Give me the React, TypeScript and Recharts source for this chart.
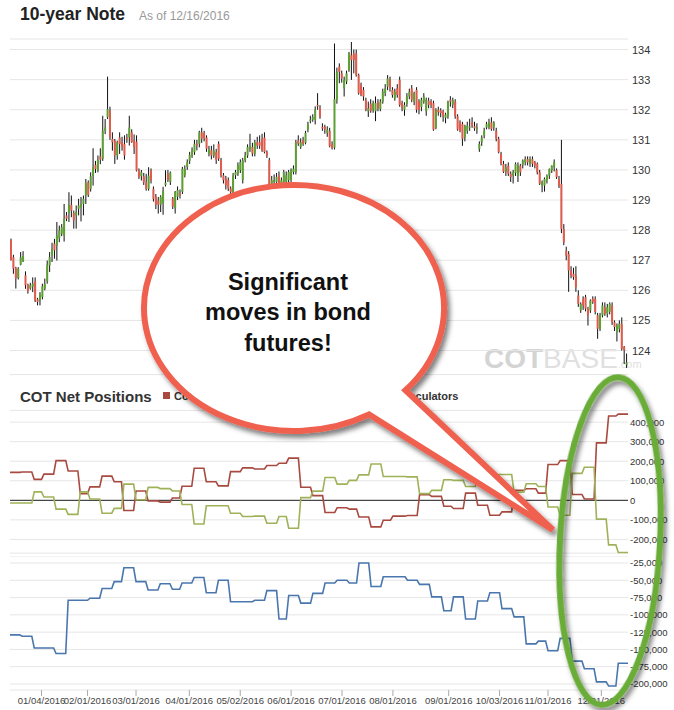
import React from "react";
import { ComposedChart, Bar, Line, XAxis, YAxis, CartesianGrid, ReferenceLine } from "recharts";

// daily candles [open, high, low, close], split by period
const OHLC_DEC_MAR = [
  [127.66, 127.72, 126.99, 127.0], [127.1, 127.18, 126.55, 126.72], [126.74, 126.78, 126.06, 126.39],
  [126.41, 126.77, 126.36, 126.72], [126.85, 127.27, 126.83, 127.1], [126.96, 127.3, 126.94, 127.14],
  [126.5, 126.63, 126.05, 126.17], [126.19, 126.22, 125.89, 125.97], [126.06, 126.25, 126.02, 126.17],
  [126.12, 126.43, 125.94, 126.22], [126.3, 126.43, 125.61, 125.66], [125.7, 125.75, 125.5, 125.61],
  [125.66, 125.94, 125.5, 125.86], [125.78, 126.22, 125.7, 126.14], [126.06, 126.39, 126.0, 126.22],
  [126.3, 126.99, 126.22, 126.85], [126.83, 127.27, 126.61, 127.1], [127.16, 127.58, 126.94, 127.38],
  [127.55, 127.71, 127.05, 127.33], [127.49, 128.27, 126.99, 127.82], [127.73, 128.15, 127.6, 127.99],
  [127.88, 128.2, 127.8, 128.1], [127.82, 128.87, 127.62, 128.38], [128.49, 128.6, 128.3, 128.38],
  [128.57, 129.26, 128.27, 128.84], [128.84, 129.15, 128.43, 128.65], [128.57, 128.65, 128.05, 128.32],
  [128.49, 128.82, 128.05, 128.6], [128.71, 129.04, 128.49, 128.82], [128.76, 129.1, 128.29, 128.87],
  [128.87, 129.15, 128.49, 129.04], [129.15, 129.7, 128.87, 129.57], [129.59, 129.65, 129.1, 129.17],
  [129.37, 129.92, 129.28, 129.79], [129.79, 130.72, 129.48, 130.09], [130.17, 130.3, 129.9, 130.03],
  [129.98, 130.48, 129.92, 130.34], [130.45, 130.72, 130.19, 130.34], [130.37, 131.8, 130.3, 131.3],
  [131.3, 131.69, 131.19, 131.41], [131.75, 133.1, 131.69, 132.02], [131.97, 132.1, 131.0, 131.08],
  [131.03, 131.25, 130.64, 130.92], [130.97, 131.03, 130.2, 130.48], [130.48, 130.97, 130.34, 130.92],
  [131.08, 131.25, 130.53, 130.86], [130.92, 131.1, 130.64, 130.78], [130.86, 131.15, 130.34, 130.48],
  [131.08, 131.2, 130.9, 131.03], [131.08, 131.8, 130.81, 131.41], [131.25, 131.35, 130.9, 130.92],
  [130.97, 131.18, 130.53, 130.75], [130.94, 131.15, 129.95, 129.98], [129.98, 130.05, 129.7, 129.76],
  [129.79, 130.0, 129.65, 129.92], [129.79, 129.9, 129.5, 129.59], [129.59, 129.87, 129.31, 129.37],
  [129.37, 130.09, 129.31, 129.81], [129.98, 130.05, 129.55, 129.65], [129.37, 129.45, 128.95, 129.04],
];

const OHLC_MAR_JUN = [
  [129.11, 129.2, 128.7, 128.84], [128.98, 129.1, 128.55, 128.85], [128.84, 129.16, 128.6, 129.11],
  [128.89, 129.44, 128.51, 129.3], [129.5, 129.99, 129.45, 129.58], [129.88, 130.0, 129.6, 129.66],
  [129.6, 129.95, 129.5, 129.91], [129.05, 129.1, 128.7, 128.78], [128.73, 129.3, 128.55, 129.27],
  [129.11, 129.45, 129.0, 129.33], [129.22, 129.35, 129.05, 129.16], [129.27, 130.1, 129.2, 130.04],
  [129.82, 130.15, 129.75, 130.04], [130.1, 130.35, 130.0, 130.26], [130.3, 130.6, 130.2, 130.5],
  [130.48, 130.75, 130.4, 130.65], [130.59, 131.0, 130.5, 130.87], [130.87, 131.0, 130.65, 130.81],
  [130.87, 131.3, 130.75, 131.25], [131.25, 131.4, 130.9, 131.03], [131.22, 131.3, 130.95, 131.05],
  [131.08, 131.15, 130.6, 130.7], [130.54, 130.8, 130.45, 130.68], [130.65, 130.8, 130.35, 130.48],
  [130.48, 130.85, 130.4, 130.65], [130.59, 130.7, 130.2, 130.32], [130.87, 130.95, 130.3, 130.37],
  [130.32, 130.4, 129.75, 129.82], [129.82, 129.9, 129.55, 129.66], [129.71, 129.8, 129.35, 129.49],
  [129.66, 129.75, 129.3, 129.38], [129.38, 129.45, 129.1, 129.27], [129.22, 129.9, 129.1, 129.82],
  [129.82, 130.0, 129.7, 129.93], [129.88, 130.25, 129.8, 130.15], [129.99, 130.35, 129.9, 130.26],
  [129.66, 130.4, 129.55, 130.32], [130.32, 130.6, 130.25, 130.48], [130.48, 130.85, 130.4, 130.76],
  [130.7, 131.2, 130.6, 130.81], [130.76, 130.9, 130.45, 130.54], [130.54, 131.0, 130.45, 130.92],
  [130.92, 131.1, 130.7, 130.81], [130.92, 131.15, 130.7, 130.81], [131.03, 131.2, 130.6, 130.65],
  [131.08, 131.25, 130.55, 130.59], [130.59, 130.65, 130.4, 130.48], [130.32, 130.4, 129.45, 129.49],
  [129.49, 129.8, 129.4, 129.66], [129.6, 129.85, 129.5, 129.66], [129.6, 129.9, 129.5, 129.77],
  [129.82, 129.95, 129.45, 129.55], [129.49, 129.75, 129.4, 129.66], [129.55, 130.0, 129.45, 129.93],
  [129.6, 129.95, 129.55, 129.82], [129.66, 130.0, 129.55, 129.93], [129.66, 130.05, 129.6, 129.99],
  [129.93, 130.15, 129.85, 130.04], [129.93, 131.0, 129.85, 130.92], [130.98, 131.15, 130.8, 130.87],
  [130.76, 131.05, 130.7, 130.92], [130.98, 131.1, 130.8, 130.87],
];

const OHLC_JUN_AUG = [
  [130.9, 131.3, 130.85, 131.23], [131.34, 131.6, 131.25, 131.51], [131.62, 131.8, 131.55, 131.67],
  [131.67, 131.85, 131.6, 131.76], [131.67, 132.11, 131.51, 132.0], [132.16, 132.55, 132.0, 132.11],
  [132.05, 132.15, 131.7, 131.76], [131.43, 131.55, 131.3, 131.38], [131.43, 131.5, 131.2, 131.34],
  [131.23, 131.45, 131.1, 131.34], [131.29, 131.4, 130.75, 130.79], [130.85, 130.95, 130.68, 130.72],
  [130.74, 134.2, 130.68, 132.35], [132.33, 133.4, 132.2, 133.26], [133.43, 133.54, 132.88, 133.26],
  [133.21, 133.3, 132.9, 133.04], [132.71, 133.1, 132.44, 132.99], [132.94, 133.3, 132.85, 133.21],
  [133.32, 133.92, 133.26, 133.87], [133.81, 134.25, 132.99, 133.65], [133.87, 134.0, 133.21, 133.65],
  [133.87, 134.0, 133.1, 133.15], [133.15, 133.2, 132.5, 132.55], [132.82, 132.9, 132.45, 132.49],
  [132.66, 132.75, 132.3, 132.44], [132.33, 132.4, 131.95, 132.0], [131.95, 132.27, 131.76, 132.05],
  [132.2, 132.35, 131.9, 131.95], [132.0, 132.3, 131.9, 132.22], [131.95, 132.44, 131.62, 132.22],
  [132.25, 132.35, 131.95, 132.05], [132.02, 132.35, 131.95, 132.27], [132.27, 132.7, 132.2, 132.6],
  [132.55, 132.85, 132.45, 132.71], [132.77, 133.15, 132.65, 133.04], [133.01, 133.1, 132.6, 132.71],
  [132.66, 132.75, 132.4, 132.49], [132.38, 132.7, 132.3, 132.6], [132.71, 132.85, 132.4, 132.49],
  [132.99, 133.1, 132.1, 132.16], [132.22, 132.3, 131.95, 132.05], [132.0, 132.25, 131.8, 132.16],
  [132.2, 132.55, 132.1, 132.44], [132.44, 132.7, 132.35, 132.6], [132.71, 132.82, 132.25, 132.33],
  [132.27, 132.6, 132.15, 132.55], [132.66, 132.75, 131.9, 132.0], [132.27, 132.35, 131.85, 132.0],
  [132.09, 132.4, 131.95, 132.33], [132.27, 132.55, 132.2, 132.44], [131.95, 132.4, 131.8, 132.33],
  [132.3, 132.4, 132.05, 132.16], [132.27, 132.35, 132.05, 132.16], [132.22, 132.3, 131.3, 131.34],
  [131.4, 132.05, 131.35, 132.0], [132.0, 132.1, 131.8, 131.92], [131.98, 132.05, 131.75, 131.89],
  [131.95, 132.0, 131.6, 131.78], [131.73, 131.9, 131.55, 131.84], [131.78, 132.3, 131.7, 132.27],
  [132.33, 132.45, 132.1, 132.27], [132.16, 132.4, 132.05, 132.33], [132.27, 132.35, 131.7, 131.78],
  [131.78, 131.85, 131.3, 131.34],
];

const OHLC_SEP_NOV = [
  [131.58, 131.65, 131.25, 131.3], [131.52, 131.6, 130.8, 131.03], [131.08, 131.5, 130.95, 131.47],
  [131.3, 131.6, 131.2, 131.47], [131.41, 131.7, 131.3, 131.44], [131.58, 131.75, 131.4, 131.47],
  [131.45, 131.6, 131.3, 131.38], [131.36, 131.55, 131.2, 131.41], [130.7, 130.95, 130.6, 130.86],
  [130.92, 131.15, 130.8, 131.08], [131.14, 131.4, 131.05, 131.3], [131.41, 131.6, 131.35, 131.52],
  [131.41, 131.7, 131.35, 131.58], [131.58, 131.75, 131.3, 131.36], [131.41, 131.62, 131.3, 131.58],
  [131.3, 131.4, 130.95, 131.03], [131.03, 131.1, 130.55, 130.59], [130.53, 130.6, 130.15, 130.2],
  [130.2, 130.3, 129.9, 129.94], [129.94, 130.2, 129.8, 130.09], [130.14, 130.25, 129.8, 129.87],
  [129.87, 129.95, 129.6, 129.76], [129.81, 130.0, 129.55, 129.92], [129.9, 130.25, 129.8, 130.2],
  [129.79, 130.25, 129.6, 130.14], [130.14, 130.2, 129.8, 129.92], [130.17, 130.35, 130.05, 130.31],
  [130.25, 130.45, 130.15, 130.36], [130.36, 130.45, 130.15, 130.25], [130.2, 130.45, 130.1, 130.36],
  [130.36, 130.45, 130.1, 130.2], [130.25, 130.3, 130.05, 130.14], [130.2, 130.25, 129.85, 129.92],
  [129.92, 130.0, 129.5, 129.54], [129.48, 129.65, 129.26, 129.59], [129.48, 129.75, 129.28, 129.7],
  [129.65, 129.85, 129.55, 129.81], [129.81, 130.05, 129.7, 130.03], [129.98, 130.15, 129.9, 130.14],
  [130.09, 130.35, 129.95, 130.25], [130.0, 130.05, 129.7, 129.76], [129.7, 129.8, 129.4, 129.48],
  [129.53, 131.0, 127.9, 128.04],
];

const OHLC_NOV_DEC = [
  [128.04, 128.2, 127.5, 127.6], [127.32, 127.45, 127.0, 127.15], [127.21, 127.3, 125.95, 126.66],
  [126.66, 126.8, 126.4, 126.49], [126.55, 126.75, 126.35, 126.44], [126.49, 126.8, 125.95, 126.1],
  [125.83, 126.0, 125.45, 125.55], [125.33, 125.6, 125.25, 125.55], [125.72, 125.8, 125.35, 125.5],
  [125.77, 125.85, 125.3, 125.39], [125.39, 125.45, 124.83, 125.17], [125.33, 125.7, 125.25, 125.66],
  [125.72, 125.8, 125.55, 125.61], [125.72, 125.8, 125.2, 125.28], [125.17, 125.25, 124.39, 124.72],
  [124.72, 125.25, 124.65, 125.19], [125.17, 125.6, 125.1, 125.5], [125.44, 125.6, 125.15, 125.22],
  [125.22, 125.55, 125.1, 125.44], [125.28, 125.6, 125.2, 125.55], [125.5, 125.6, 124.85, 124.94],
  [124.94, 125.0, 124.65, 124.78], [124.61, 124.9, 124.3, 124.83], [124.72, 125.0, 124.6, 124.89],
  [124.89, 125.1, 124.0, 124.06], [124.12, 124.15, 123.55, 124.01], [123.53, 123.9, 123.42, 123.6],
];

// weekly COT net positions (thousands of contracts); WEEK_START = first trading-day index of each report
const WEEK_START = [0, 5, 10, 14, 19, 24, 29, 33, 38, 43, 47, 52, 57, 62, 67, 71, 76, 81, 86, 91, 96, 101, 106, 111, 115, 120, 125, 130, 135, 140, 144, 149, 154, 158, 164, 169, 174, 179, 183, 188, 193, 198, 203, 208, 213, 218, 222, 227, 232, 237, 242, 247, 251];
const COMMERCIALS = [143, 145, 107, 134, 203, 150, 34, 69, 124, 95, -52, 48, -3, -9, 12, 72, 164, 95, 74, 147, 166, 160, 178, 190, 216, 67, 24, -62, -38, -45, -85, -136, -102, -81, -78, 29, 20, -30, -42, 37, -25, -76, -59, 51, 59, 37, 183, 203, 30, 7, 294, 431, 441];
const LARGE_SPEC = [-14, -14, 43, 17, -45, -72, 43, 7, -66, -41, 83, 3, 66, 60, 48, -21, -121, -28, -28, -66, -83, -81, -117, -83, -143, 14, 47, 117, 83, 102, 130, 186, 122, 122, 120, 34, 51, 105, 102, 71, 119, 132, 132, 42, 85, 71, -34, -76, 138, 169, -96, -228, -267];
const SMALL_SPEC = [-129, -131, -148, -148, -156, -79, -79, -76, -62, -52, -32, -52, -64, -55, -63, -54, -46, -68, -50, -81, -81, -79, -65, -106, -72, -83, -69, -54, -50, -54, -25, -59, -45, -45, -50, -56, -74, -94, -74, -106, -80, -68, -91, -103, -142, -138, -152, -134, -167, -178, -197, -203, -170];

const PRICE_TICKS = [124, 125, 126, 127, 128, 129, 130, 131, 132, 133, 134];
const COT_TICKS = [-200, -100, 0, 100, 200, 300, 400];
const SMALL_TICKS = [-200, -175, -150, -125, -100, -75, -50, -25];
const TICK_INDEX = [13, 32, 52, 74, 95, 116, 137, 158, 181, 202, 222, 244];
const TICK_LABEL = ["01/04/2016", "02/01/2016", "03/01/2016", "04/01/2016", "05/02/2016", "06/01/2016", "07/01/2016", "08/01/2016", "09/01/2016", "10/03/2016", "11/01/2016", "12/01/2016"];

const FONT = "'Liberation Sans', Arial, Helvetica, sans-serif";
const RED = "#E05B4B";
const GREEN = "#5E9F34";

const candles = [...OHLC_DEC_MAR, ...OHLC_MAR_JUN, ...OHLC_JUN_AUG, ...OHLC_SEP_NOV, ...OHLC_NOV_DEC];
const priceData = candles.map(([o, h, l, c], i) => ({ i, range: [l, h], o, h, l, c }));

// weekly reports held until the next report
const cotData = candles.map((_, i) => {
  let w = 0;
  while (w + 1 < WEEK_START.length && WEEK_START[w + 1] <= i) w++;
  return { i, com: COMMERCIALS[w], lrg: LARGE_SPEC[w], sml: SMALL_SPEC[w] };
});

function Candle(props: any) {
  const { x, y, width, height, payload } = props;
  if (!payload) return null;
  const top = Math.min(y, y + height);
  const bot = Math.max(y, y + height);
  const span = payload.h - payload.l || 1;
  const py = (v: number) => top + ((payload.h - v) / span) * (bot - top);
  const cx = x + width / 2;
  const up = payload.c >= payload.o;
  const y1 = py(Math.max(payload.o, payload.c));
  const y2 = py(Math.min(payload.o, payload.c));
  return (
    <g>
      <line x1={cx} x2={cx} y1={top} y2={bot} stroke="#111" strokeWidth={1} />
      <rect x={cx - 1} y={y1} width={2} height={Math.max(1, y2 - y1)} fill={up ? GREEN : RED} />
    </g>
  );
}

const thousands = (v: number) => (v === 0 ? "0" : `${v},000`);

const priceTick = (p: any) => (
  <text x={p.x + 4} y={p.y + 4} fontSize={11} fill="#333" fontFamily={FONT} textAnchor="start">
    {p.payload.value}
  </text>
);

const cotTick = (p: any) => (
  <text x={p.x + 2} y={p.y + 3.5} fontSize={9.5} fill="#333" fontFamily={FONT} textAnchor="start">
    {thousands(p.payload.value)}
  </text>
);

const dateTick = (p: any) => {
  const k = TICK_INDEX.indexOf(Number(p.payload.value));
  if (k < 0) return <g />;
  return (
    <g>
      <line x1={p.x} x2={p.x} y1={p.y} y2={p.y + 6} stroke="#aaa" />
      <text x={p.x} y={p.y + 14} fontSize={9.5} fill="#444" fontFamily={FONT} textAnchor="middle">
        {TICK_LABEL[k]}
      </text>
    </g>
  );
};

// speech bubble: ellipse with a tail
const BX = 294, BY = 308, RX = 150, RY = 123;
const pt = (deg: number) => [BX + RX * Math.cos((deg * Math.PI) / 180), BY + RY * Math.sin((deg * Math.PI) / 180)];
const [r1x, r1y] = pt(42);
const [r2x, r2y] = pt(60);
const bubblePath = `M ${r1x} ${r1y} A ${RX} ${RY} 0 1 0 ${r2x} ${r2y} L 553 530 Z`;

export default function App() {
  return (
    <div style={{ position: "absolute", left: 0, top: 0, width: 674, height: 710, background: "#fff", overflow: "hidden" }}>
      <svg width={674} height={710} style={{ position: "absolute", left: 0, top: 0 }}>
        <text x={20} y={20} fontSize={17.5} fontWeight="bold" fill="#222" fontFamily={FONT}>10-year Note</text>
        <text x={139} y={20} fontSize={12} fill="#999" fontFamily={FONT}>As of 12/16/2016</text>
        <text x={484} y={368} fontFamily={FONT} fontSize={28}>
          <tspan fontWeight="bold" fill="#d4d4d4">COT</tspan>
          <tspan fill="#e0e0e0">BASE</tspan>
          <tspan fontSize={11} fill="#e0e0e0">.com</tspan>
        </text>
        <text x={20} y={402} fontSize={15} fontWeight="bold" fill="#333" fontFamily={FONT}>COT Net Positions</text>
        <rect x={163} y={392} width={7} height={7} fill="#A84A40" />
        <text x={174} y={400} fontSize={11} fontWeight="bold" fill="#333" fontFamily={FONT}>Commercials</text>
        <rect x={250} y={392} width={7} height={7} fill="#9FB25A" />
        <text x={261} y={400} fontSize={11} fontWeight="bold" fill="#333" fontFamily={FONT}>Large Speculators</text>
        <rect x={352} y={392} width={7} height={7} fill="#4A76AE" />
        <text x={363} y={400} fontSize={11} fontWeight="bold" fill="#333" fontFamily={FONT}>Small Speculators</text>
      </svg>

      <div style={{ position: "absolute", left: 0, top: 0 }}>
        <ComposedChart width={674} height={380} data={priceData} margin={{ top: 39, right: 0, bottom: 5.4, left: 10 }} barCategoryGap={0}>
          <CartesianGrid vertical={false} stroke="#e6e6e6" />
          <XAxis dataKey="i" hide />
          <YAxis orientation="right" width={46} domain={[123.2, 134.35]} ticks={PRICE_TICKS} axisLine={false} tickLine={false} tickSize={0} tickMargin={0} tick={priceTick} interval={0} />
          <Bar dataKey="range" shape={<Candle />} isAnimationActive={false} />
        </ComposedChart>
      </div>

      <div style={{ position: "absolute", left: 0, top: 400 }}>
        <ComposedChart width={674} height={160} data={cotData} margin={{ top: 10.4, right: 0, bottom: 6.9, left: 10 }}>
          <CartesianGrid vertical={false} stroke="#e6e6e6" />
          <XAxis dataKey="i" hide />
          <YAxis orientation="right" width={46} domain={[-270, 460]} ticks={COT_TICKS} axisLine={false} tickLine={false} tickSize={0} tickMargin={0} tick={cotTick} interval={0} />
          <ReferenceLine y={0} stroke="#222" strokeWidth={1} />
          <Line type="linear" dataKey="com" stroke="#A84A40" strokeWidth={1.6} dot={false} isAnimationActive={false} />
          <Line type="linear" dataKey="lrg" stroke="#9FB25A" strokeWidth={1.6} dot={false} isAnimationActive={false} />
        </ComposedChart>
      </div>

      <div style={{ position: "absolute", left: 0, top: 556 }}>
        <ComposedChart width={674} height={154} data={cotData} margin={{ top: 0, right: 0, bottom: 0, left: 10 }}>
          <CartesianGrid vertical={false} stroke="#e6e6e6" />
          <XAxis dataKey="i" height={20} interval={0} axisLine={false} tickLine={false} tickSize={0} tickMargin={0} tick={dateTick} />
          <YAxis orientation="right" width={46} domain={[-208.7, -14.9]} ticks={SMALL_TICKS} axisLine={false} tickLine={false} tickSize={0} tickMargin={0} tick={cotTick} interval={0} />
          <Line type="linear" dataKey="sml" stroke="#4A76AE" strokeWidth={1.6} dot={false} isAnimationActive={false} />
        </ComposedChart>
      </div>

      <svg width={674} height={710} style={{ position: "absolute", left: 0, top: 0, pointerEvents: "none" }}>
        <defs>
          <filter id="shade" x="-20%" y="-20%" width="140%" height="140%">
            <feDropShadow dx="3" dy="4" stdDeviation="2.5" floodColor="#000" floodOpacity="0.5" />
          </filter>
        </defs>
        <path d={bubblePath} fill="#fff" stroke="#EF6150" strokeWidth={6} strokeLinejoin="miter" filter="url(#shade)" />
        <g fontFamily={FONT} fontWeight="bold" fontSize={23.5} fill="#111" textAnchor="middle">
          <text x={288} y={290}>Significant</text>
          <text x={288} y={320}>moves in bond</text>
          <text x={288} y={351}>futures!</text>
        </g>
        <ellipse cx={610} cy={541} rx={50} ry={164} transform="rotate(3 610 541)" fill="none" stroke="#6AAC37" strokeWidth={6} filter="url(#shade)" />
      </svg>
    </div>
  );
}
